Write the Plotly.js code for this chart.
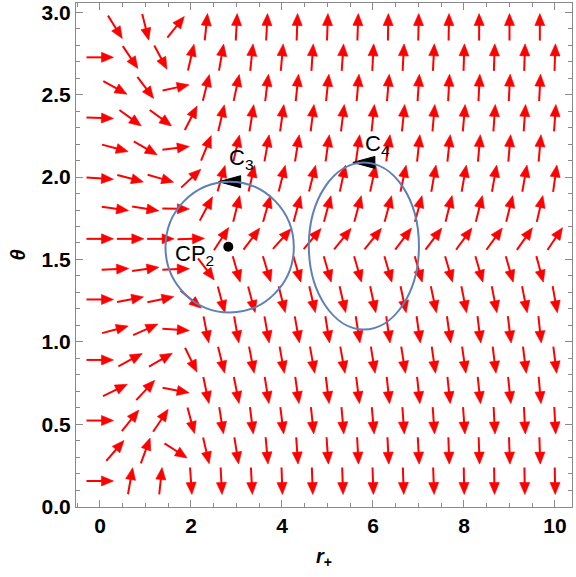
<!DOCTYPE html>
<html>
<head>
<meta charset="utf-8">
<script src="https://cdn.plot.ly/plotly-3.0.1.min.js"></script>
<style>html,body{margin:0;padding:0;background:#fff;}#chart{width:576px;height:577px;}</style>
</head>
<body>
<div id="chart"></div>
<script>
// ---- grid of the vector field (r positions for even / odd staggered rows, theta of each row)
const rEven = [0, 0.667, 1.333, 2, 2.667, 3.333, 4, 4.667, 5.333, 6, 6.667, 7.333, 8, 8.667, 9.333, 10];
const rOdd  = [0.333, 1, 1.667, 2.333, 3, 3.667, 4.333, 5, 5.667, 6.333, 7, 7.667, 8.333, 9, 9.667];
const thetaRows = [0.155, 0.339, 0.522, 0.706, 0.890, 1.074, 1.257, 1.441, 1.625, 1.808, 1.992, 2.176, 2.359, 2.543, 2.727, 2.911];

// ---- arrow directions (degrees, counter-clockwise from +r on screen)
const dirRow00 = [0, 80, 84, -86, -87, -87, -88, -88, -88, -88, -88, -88, -89, -89, -89, -89];
const dirRow01 = [49, 70, -33, -77, -81, -85, -86, -86, -87, -87, -87, -88, -88, -88, -88];
const dirRow02 = [0, 51, 56, -75, -81, -83, -83, -84, -85, -85, -86, -86, -86, -87, -87, -87];
const dirRow03 = [26, 47, -11, -78, -79, -81, -82, -83, -83, -84, -84, -84, -84, -84, -85];
const dirRow04 = [0, 28, 30, -64, -76, -79, -80, -80, -80, -81, -81, -82, -82, -83, -83, -83];
const dirRow05 = [15, 24, -4, -79, -80, -80, -80, -81, -81, -82, -82, -82, -83, -83, -84];
const dirRow06 = [0, 11, 12, -40, -75, -75, -76, -77, -77, -78, -78, -78, -79, -79, -79, -80];
const dirRow07 = [3, 8, 2, -53, -74, -73, -74, -74, -74, -74, -74, -74, -74, -74, -75];
const dirRow08 = [0, 0, 0, 2, 57, 53, 48, 50, 51, 51, 53, 53, 54, 54, 55, 56];
const dirRow09 = [-8, -9, -1, 62, 76, 74, 75, 75, 75, 75, 75, 76, 76, 76, 77];
const dirRow10 = [-4, -15, -16, 43, 74, 77, 76, 76, 78, 78, 78, 80, 80, 80, 80, 82];
const dirRow11 = [-15, -30, 7, 68, 77, 80, 81, 82, 82, 82, 84, 84, 85, 85, 85];
const dirRow12 = [-2, -36, -36, 63, 77, 81, 82, 83, 83, 84, 84, 85, 85, 86, 86, 86];
const dirRow13 = [-29, -53, 12, 76, 78, 83, 84, 84, 85, 85, 86, 87, 87, 87, 87];
const dirRow14 = [0, -56, -62, 77, 80, 84, 85, 86, 86, 87, 87, 87, 88, 88, 88, 88];
const dirRow15 = [-58, -76, 51, 84, 87, 87, 88, 88, 88, 89, 89, 89, 90, 90, 90];

// ---- closed contours C3, C4 (ellipses in the (r, theta) plane)
const contourLabels = ['C<sub>3</sub>', 'C<sub>4</sub>'];
const contourCenterR = [2.85, 5.80];
const contourCenterTheta = [1.575, 1.582];
const contourHalfR = [1.41, 1.21];
const contourHalfTheta = [0.397, 0.507];
const contourLabelR = [2.79, 5.78];
const contourLabelTheta = [2.01, 2.10];

// ---- critical point
const cpLabel = ['CP<sub>2</sub>'];
const cpR = [2.82];
const cpTheta = [1.577];

// ---- layout geometry
const W = 576, H = 577;
const M = {l: 76, r: 4, t: 3, b: 70};
const xRange = [-0.527, 10.374];
const yRange = [-0.003, 3.057];
const sx = (W - M.l - M.r) / (xRange[1] - xRange[0]);
const sy = (H - M.t - M.b) / (yRange[1] - yRange[0]);

const L = 27, HL = 12, HW = 5;   // arrow length, head length, head half-width (px)
const rows = [dirRow00, dirRow01, dirRow02, dirRow03, dirRow04, dirRow05, dirRow06, dirRow07,
              dirRow08, dirRow09, dirRow10, dirRow11, dirRow12, dirRow13, dirRow14, dirRow15];

const shaftX = [], shaftY = [], headX = [], headY = [];
rows.forEach((angles, j) => {
  const rs = (j % 2 === 0) ? rEven : rOdd;
  const th = thetaRows[j];
  angles.forEach((deg, i) => {
    const cx = rs[i], cy = th;
    const a = deg * Math.PI / 180;
    const ux = Math.cos(a), uy = Math.sin(a);
    const vx = -uy, vy = ux;
    const P = (along, side) => [cx + (along * ux + side * vx) / sx, cy + (along * uy + side * vy) / sy];
    const tail = P(-L / 2, 0), neck = P(L / 2 - HL + 1, 0);
    shaftX.push(tail[0], neck[0], null); shaftY.push(tail[1], neck[1], null);
    const tip = P(L / 2, 0), b1 = P(L / 2 - HL, HW), b2 = P(L / 2 - HL, -HW);
    headX.push(tip[0], b1[0], b2[0], tip[0], null); headY.push(tip[1], b1[1], b2[1], tip[1], null);
  });
});

const traces = [
  {type: 'scatter', mode: 'lines', x: shaftX, y: shaftY, line: {color: '#ff0000', width: 2}, hoverinfo: 'skip', showlegend: false},
  {type: 'scatter', mode: 'lines', x: headX, y: headY, fill: 'toself', fillcolor: '#ff0000', line: {color: '#ff0000', width: 0.6}, hoverinfo: 'skip', showlegend: false}
];

const labelFont = {family: 'Liberation Sans, Arial, sans-serif', size: 22, color: '#000'};

// ellipses + direction arrowheads at their tops
const shapes = [];
const annotations = [];
const cHeadX = [], cHeadY = [];
contourCenterR.forEach((cr, k) => {
  const ct = contourCenterTheta[k], ar = contourHalfR[k], at = contourHalfTheta[k];
  shapes.push({type: 'circle', xref: 'x', yref: 'y', x0: cr - ar, x1: cr + ar, y0: ct - at, y1: ct + at,
               line: {color: '#5e81b5', width: 2}, layer: 'above'});
  const topR = cr, topT = ct + at;
  cHeadX.push(topR - 11 / sx, topR + 11 / sx, topR + 11 / sx, topR - 11 / sx, null);
  cHeadY.push(topT, topT + 6 / sy, topT - 6 / sy, topT, null);
  annotations.push({xref: 'x', yref: 'y', x: contourLabelR[k], y: contourLabelTheta[k], text: contourLabels[k],
                    showarrow: false, xanchor: 'left', yanchor: 'bottom', font: labelFont});
});
traces.push({type: 'scatter', mode: 'lines', x: cHeadX, y: cHeadY, fill: 'toself', fillcolor: '#000',
             line: {color: '#000', width: 1}, hoverinfo: 'skip', showlegend: false});
traces.push({type: 'scatter', mode: 'markers', x: cpR, y: cpTheta, marker: {color: '#000', size: 10},
             hoverinfo: 'skip', showlegend: false});
annotations.push({xref: 'x', yref: 'y', x: 2.54, y: 1.525, text: cpLabel[0], showarrow: false,
                  xanchor: 'right', yanchor: 'middle', font: labelFont});

const tickFont = {family: 'Liberation Sans, Arial, sans-serif', size: 21, color: '#000', weight: 'bold'};
const layout = {
  width: W, height: H,
  margin: M,
  paper_bgcolor: '#fff', plot_bgcolor: '#fff',
  showlegend: false,
  xaxis: {
    range: xRange, showgrid: false, zeroline: false,
    showline: true, linecolor: '#8a8a8a', linewidth: 1, mirror: 'ticks',
    ticks: 'inside', ticklen: 7, tickcolor: '#8a8a8a', tickwidth: 1,
    tick0: 0, dtick: 2, tickfont: tickFont,
    minor: {dtick: 0.5, tick0: 0, ticks: 'inside', ticklen: 4, tickcolor: '#8a8a8a', showgrid: false},
    title: {text: '<b><i>r</i></b><sub><b>+</b></sub>', font: {family: 'Liberation Sans, Arial, sans-serif', size: 20, color: '#000'}, standoff: 12},
    automargin: false
  },
  yaxis: {
    range: yRange, showgrid: false, zeroline: false,
    showline: true, linecolor: '#8a8a8a', linewidth: 1, mirror: 'ticks',
    ticks: 'inside', ticklen: 7, tickcolor: '#8a8a8a', tickwidth: 1,
    tick0: 0, dtick: 0.5, tickformat: '.1f', tickfont: tickFont,
    minor: {dtick: 0.1, tick0: 0, ticks: 'inside', ticklen: 4, tickcolor: '#8a8a8a', showgrid: false},
    title: {text: '<b><i>θ</i></b>', font: {family: 'Liberation Sans, Arial, sans-serif', size: 20, color: '#000'}, standoff: 10},
    automargin: false
  },
  shapes: shapes,
  annotations: annotations
};

Plotly.newPlot('chart', traces, layout, {displayModeBar: false, staticPlot: true});
</script>
</body>
</html>
